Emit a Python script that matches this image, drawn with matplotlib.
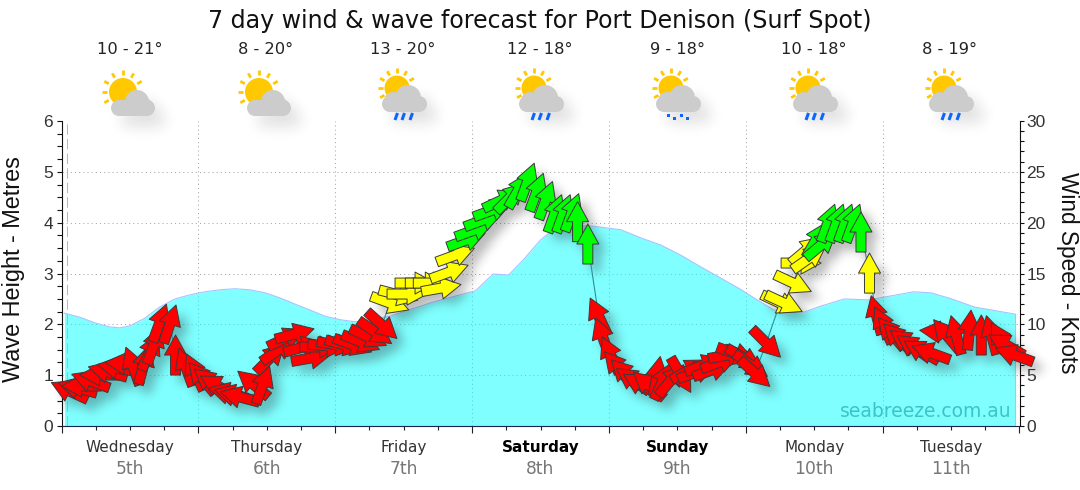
import numpy as np
import matplotlib
matplotlib.use("Agg")
import matplotlib.pyplot as plt
from matplotlib.figure import Figure
from matplotlib.backends.backend_agg import FigureCanvasAgg
from matplotlib.path import Path
from matplotlib.patches import Circle, Rectangle
from matplotlib.ticker import MultipleLocator, NullFormatter

title = "7 day wind & wave forecast for Port Denison (Surf Spot)"
days = ["Wednesday", "Thursday", "Friday", "Saturday", "Sunday", "Monday", "Tuesday"]
dates = ["5th", "6th", "7th", "8th", "9th", "10th", "11th"]
weekend = ["Saturday", "Sunday"]
temps = ["10 - 21°", "8 - 20°", "13 - 20°", "12 - 18°", "9 - 18°", "10 - 18°", "8 - 19°"]
icons = ["partly", "partly", "rain", "rain", "showers", "rain", "rain"]

wave_hours = [0.5, 3.2, 5.8, 8.4, 10.2, 12.0, 14.6, 17.2, 19.9, 22.5, 25.1, 27.8, 30.4, 33.0, 35.7, 38.3,
              40.9, 43.6, 46.2, 48.9, 51.5, 54.1, 57.6, 65.2, 72.6, 75.7, 78.4, 81.0, 84.0, 86.3, 89.3,
              93.3, 98.1, 101.6, 105.1, 108.6, 112.1, 115.6, 119.2, 122.0, 125.0, 130.2, 133.2, 137.3,
              141.5, 145.5, 149.4, 152.5, 156.1, 160.1, 167.3]
wave_metres = [2.22, 2.14, 2.03, 1.95, 1.93, 1.97, 2.12, 2.34, 2.50, 2.58, 2.64, 2.68, 2.70, 2.68, 2.62, 2.52,
               2.40, 2.28, 2.16, 2.09, 2.05, 2.09, 2.16, 2.44, 2.66, 2.99, 2.97, 3.27, 3.66, 3.86, 3.95,
               3.93, 3.86, 3.70, 3.56, 3.36, 3.13, 2.91, 2.68, 2.48, 2.28, 2.24, 2.36, 2.50,
               2.48, 2.56, 2.64, 2.62, 2.50, 2.34, 2.20]

wind_hours = [1.4, 2.8, 3.5, 5.1, 6.7, 8.1, 9.7, 11.1, 12.5, 14.4, 15.5, 16.2, 17.2, 19.0, 20.0, 21.8, 23.4,
              24.6, 26.0, 27.4, 29.2, 30.2, 31.3, 33.6, 35.3, 36.6, 38.0, 39.4, 40.9, 42.4, 43.8, 45.3,
              46.7, 48.3, 49.7, 51.1, 52.5, 53.8, 55.0, 56.2, 57.6, 59.1, 60.6, 62.0, 63.8, 65.2, 66.6,
              68.0, 69.1, 71.0, 72.4, 74.0, 75.6, 77.2, 78.7, 80.1, 81.7, 83.3, 84.9, 86.5, 88.0, 89.5,
              90.5, 92.3, 94.2, 94.9, 96.3, 97.5, 98.9, 100.2, 101.6, 103.0, 104.4, 105.4, 106.9, 108.6,
              110.0, 111.4, 112.7, 114.1, 115.5, 116.9, 118.3, 119.7, 120.9, 121.6, 123.6, 126.0, 126.7,
              128.3, 129.7, 130.6, 131.1, 132.3, 133.2, 134.4, 135.9, 137.4, 138.8, 140.2, 141.7, 142.9,
              144.1, 145.5, 146.7, 148.2, 149.4, 150.8, 152.5, 154.0, 155.2, 156.9, 159.2, 161.3, 163.1,
              164.8, 165.7, 167.1]
wind_knots = [3.44, 3.74, 3.93, 4.42, 5.01, 5.31, 5.70, 6.10, 5.90, 6.0, 7.28, 7.96, 10.13, 10.03, 6.98, 5.80, 5.31,
              4.72, 4.33, 3.93, 3.24, 3.05, 2.85, 4.13, 4.03, 6.69, 7.47, 8.65, 9.05, 7.77, 6.69, 7.77,
              7.87, 7.96, 7.96, 7.96, 8.26, 8.75, 9.24, 9.93, 12.09, 12.88, 12.98, 14.06, 14.06, 14.06, 13.57,
              15.14, 16.81, 18.29, 19.27, 20.26, 21.24, 22.22, 22.5, 23.2, 24.0, 23.0, 22.2, 20.9, 20.9, 21.0,
              20.1, 17.9, 10.8, 8.75, 6.98, 5.8, 5.11, 4.52, 4.1, 4.0, 4.9, 4.4, 4.52, 5.01,
              5.51, 5.31, 6.0, 5.51, 6.29, 6.98, 7.08, 6.69, 6.0, 5.21, 8.16, 12.09, 12.09,
              14.06, 16.03, 17.3, 16.5, 18.3, 17.8, 19.96, 19.96, 19.96, 19.96, 19.08, 15.04, 10.91,
              9.93, 9.14, 8.65, 8.26, 7.77, 7.37, 7.18, 9.24, 8.95, 8.95, 9.44, 8.95, 8.95,
              8.46, 7.96, 6.98]
wind_dir = [295, 285, 270, 290, 270, 285, 280, 275, 340, 15, 25, 20, 20, 18, 0, 340, 335,
            320, 310, 300, 285, 285, 285, 310, 20, 45, 55, 65, 75, 75, 80, 90,
            95, 100, 105, 110, 112, 115, 125, 132, 110, 105, 90, 90, 90, 90, 80,
            70, 70, 70, 70, 70, 70, 65, 45, 30, 20, 20, 20, 20, 20, 20,
            0, 0, 335, 340, 335, 320, 315, 305, 300, 310, 10, 25, 40, 150,
            60, 70, 70, 70, 70, 80, 110, 120, 125, 132, 135, 115, 115,
            115, 90, 50, 55, 30, 50, 20, 20, 20, 20, 0, 0, 345,
            335, 320, 315, 305, 305, 300, 290, 275, 320, 345, 5, 0, 345,
            330, 300, 290]

W, H, DPI = 1080, 490, 100
AX_RECT = [61.5 / W, (H - 426) / H, 958 / W, 305 / H]
plt.rcParams["font.family"] = "DejaVu Sans"
ARIAL = "Liberation Sans"

def speed_colour(k):
    return "#00ff00" if k >= 17.5 else ("#ffff00" if k >= 12 else "#ff0000")

ARROW = np.array([[0, 20], [11, 0], [5, 0], [5, -20], [-5, -20], [-5, 0], [-11, 0], [0, 20], [0, 20]], float)

def arrow_path(deg):
    t = np.radians(-deg)
    rot = np.array([[np.cos(t), -np.sin(t)], [np.sin(t), np.cos(t)]])
    return Path(ARROW @ rot.T, closed=True)

def draw_arrows(axis, face, edge, lw, z=5):
    coll = axis.scatter(wind_hours, wind_knots, s=(72 / DPI) ** 2, c=face, edgecolors=edge,
                        linewidths=lw, clip_on=False, zorder=z)
    coll.set_paths([arrow_path(d) for d in wind_dir])
    axis.set_xlim(0, 168)
    axis.set_ylim(0, 30)
    return coll

def blur(a, sigma):
    r = int(3 * sigma)
    x = np.arange(-r, r + 1)
    k = np.exp(-x * x / (2 * sigma * sigma))
    k /= k.sum()
    a = np.array([np.convolve(row, k, mode="same") for row in a])
    a = np.array([np.convolve(col, k, mode="same") for col in a.T]).T
    return a

def render_mask(painter):
    f = Figure(figsize=(W / DPI, H / DPI), dpi=DPI, facecolor="white")
    FigureCanvasAgg(f)
    painter(f)
    f.canvas.draw()
    return 1 - np.asarray(f.canvas.buffer_rgba())[..., 0].astype(float) / 255

def paint_arrow_mask(f):
    a = f.add_axes(AX_RECT)
    a.axis("off")
    draw_arrows(a, "black", "black", 0)

def px_axes(f, z):
    a = f.add_axes([0, 0, 1, 1], zorder=z)
    a.set_xlim(0, W)
    a.set_ylim(H, 0)
    a.axis("off")
    a.patch.set_alpha(0)
    return a

def cloud_shapes(cx, kind):
    if kind == "partly":
        return [(cx - 11, 108, 8), (cx + 17, 108, 8), (cx + 7, 102, 12), (cx - 8, 107, 7), (cx + 15, 105, 7)], (cx - 11, 100, 28, 16)
    return [(cx - 13, 104, 8), (cx + 16, 104, 8), (cx + 5, 98, 13), (cx - 10, 101, 9)], (cx - 13, 96, 29, 16)

def paint_cloud_mask(f):
    a = px_axes(f, 1)
    for c, kind in zip(centres, icons):
        circles, box = cloud_shapes(c, kind)
        for x, y, r in circles:
            a.add_patch(Circle((x, y), r, fc="k", ec="none"))
        a.add_patch(Rectangle(box[:2], box[2], box[3], fc="k", ec="none"))

# ---------- main axes
fig = plt.figure(figsize=(W / DPI, H / DPI), dpi=DPI, facecolor="white")
ax = fig.add_axes(AX_RECT, zorder=1)
ax.set_xlim(0, 168)
ax.set_ylim(0, 6)
ax.xaxis.set_major_locator(MultipleLocator(24))
ax.xaxis.set_minor_locator(MultipleLocator(6))
ax.yaxis.set_major_locator(MultipleLocator(1))
ax.yaxis.set_minor_locator(MultipleLocator(0.25))
ax.xaxis.set_major_formatter(NullFormatter())
ax.hlines([1, 2, 3, 4, 5], 0, 168, color="#a8a8a8", ls=(0, (1, 3)), lw=0.75, zorder=1)
ax.vlines([24, 48, 72, 96, 120, 144], 0, 6, color="#a8a8a8", ls=(0, (1, 3)), lw=0.75, zorder=1)
ax.tick_params(axis="x", which="major", length=5.2, width=0.8, color="#222", pad=2)
ax.tick_params(axis="x", which="minor", length=2.6, width=0.8, color="#222")
ax.tick_params(axis="y", which="major", length=3.6, width=0.8, color="#111", labelsize=12.5, labelcolor="#333", pad=2.5)
ax.tick_params(axis="y", which="minor", length=3.6, width=0.8, color="#111")
for lab in ax.get_yticklabels():
    lab.set_fontfamily(ARIAL)
for s in ["top", "right"]:
    ax.spines[s].set_visible(False)
ax.spines["left"].set_color("#111")
ax.spines["bottom"].set_color("#16244f")
ax.axvline(0.96, color="#f5a0a0", ls=(0, (10, 4)), lw=0.75, zorder=1)
ax.fill_between(wave_hours, wave_metres, color=(0, 1, 1, 0.5), lw=0, zorder=2)
ax.plot(wave_hours + [wave_hours[-1]], wave_metres + [0], color="#a4c4ff", lw=0.8, zorder=3)

for i, (d, n) in enumerate(zip(days, dates)):
    bold = d in weekend
    ax.text(12 + 24 * i, -0.43, d, ha="center", va="center", fontsize=11, color="#000" if bold else "#333",
            fontweight="bold" if bold else "normal", clip_on=False)
    ax.text(12 + 24 * i, -0.84, n, ha="center", va="center", fontsize=12.3, color="#777", clip_on=False)

ax.text(166.6, 0.29, "seabreeze.com.au", ha="right", va="center", fontsize=13.5, color="#3cc4c4", zorder=3)

centres = [130, 266, 403, 540, 677, 814, 950]
for c, t in zip(centres, temps):
    fig.text(c / W, 1 - 50 / H, t, ha="center", va="center", fontsize=11.7, color="#222")

fig.text(540 / W, 1 - 21 / H, title, ha="center", va="center", fontsize=17.1, color="#111")
fig.text(14 / W, 1 - 269 / H, "Wave Height - Metres", rotation=90, ha="center", va="center", fontsize=16.9,
         color="#111", family=ARIAL)
fig.text(1067 / W, 1 - 273 / H, "Wind Speed - Knots", rotation=270, ha="center", va="center", fontsize=16.3,
         color="#111", family=ARIAL)

# ---------- soft shadows (between the water and the arrows)
arrow_mask = np.roll(np.roll(blur(render_mask(paint_arrow_mask), 5), 8, axis=0), 8, axis=1) * 0.3
cloud_mask = np.roll(np.roll(blur(render_mask(paint_cloud_mask), 7), 12, axis=0), 10, axis=1) * 0.13
alpha = np.clip(arrow_mask + cloud_mask, 0, 1)
shadow = np.zeros((H, W, 4))
shadow[..., :3] = 0.1
shadow[..., 3] = alpha
sh_ax = px_axes(fig, 2)
sh_ax.imshow(shadow, extent=(0, W, H, 0), interpolation="nearest", aspect="auto")
sh_ax.set_xlim(0, W)
sh_ax.set_ylim(H, 0)

# ---------- wind on the right-hand axis
ax2 = fig.add_axes(AX_RECT, zorder=3, sharex=ax)
ax2.patch.set_alpha(0)
ax2.yaxis.tick_right()
ax2.yaxis.set_major_locator(MultipleLocator(5))
ax2.yaxis.set_minor_locator(MultipleLocator(1))
ax2.tick_params(axis="y", which="major", length=3, width=0.8, color="#111", labelsize=12.5, labelcolor="#333", pad=2)
ax2.tick_params(axis="y", which="minor", length=3, width=0.8, color="#111")
ax2.tick_params(axis="x", which="both", bottom=False, labelbottom=False)
for s in ["top", "left", "bottom"]:
    ax2.spines[s].set_visible(False)
ax2.spines["right"].set_color("#111")
ax2.plot(wind_hours, wind_knots, color="#2c8f98", lw=0.8, zorder=4, clip_on=False)
draw_arrows(ax2, [speed_colour(k) for k in wind_knots], "#3a3a3a", 0.7)
for lab in ax2.get_yticklabels():
    lab.set_fontfamily(ARIAL)

# ---------- weather icons
ic = px_axes(fig, 4)
for c, kind in zip(centres, icons):
    if kind == "partly":
        sx, sy, sr, rr = c - 7, 92, 14, 19
    else:
        sx, sy, sr, rr = c - 6, 88, 12.5, 17
    ic.add_patch(Circle((sx, sy), sr, fc="#ffc800", ec="none"))
    for ang in range(30, 211, 30):
        a = np.radians(ang)
        ic.plot([sx + (rr - 2.5) * np.cos(a), sx + (rr + 2.5) * np.cos(a)],
                [sy - (rr - 2.5) * np.sin(a), sy - (rr + 2.5) * np.sin(a)],
                color="#ffc800", lw=2.0, solid_capstyle="butt")
    circles, box = cloud_shapes(c, kind)
    for x, y, r in circles:
        ic.add_patch(Circle((x, y), r, fc="#cccccc", ec="none"))
    ic.add_patch(Rectangle(box[:2], box[2], box[3], fc="#cccccc", ec="none"))
    if kind == "rain":
        for dx in (-7, 0, 8):
            ic.plot([c + dx + 1.5, c + dx - 1], [113, 120], color="#0a66ff", lw=2.2, solid_capstyle="butt")
    if kind == "showers":
        for dx, y in ((-9, 115), (-3, 118), (4, 115), (10, 118)):
            ic.add_patch(Rectangle((c + dx - 1.5, y - 1.5), 3, 3, fc="#0a66ff", ec="none"))
ic.set_xlim(0, W)
ic.set_ylim(H, 0)

fig.savefig("out.png", dpi=DPI)
